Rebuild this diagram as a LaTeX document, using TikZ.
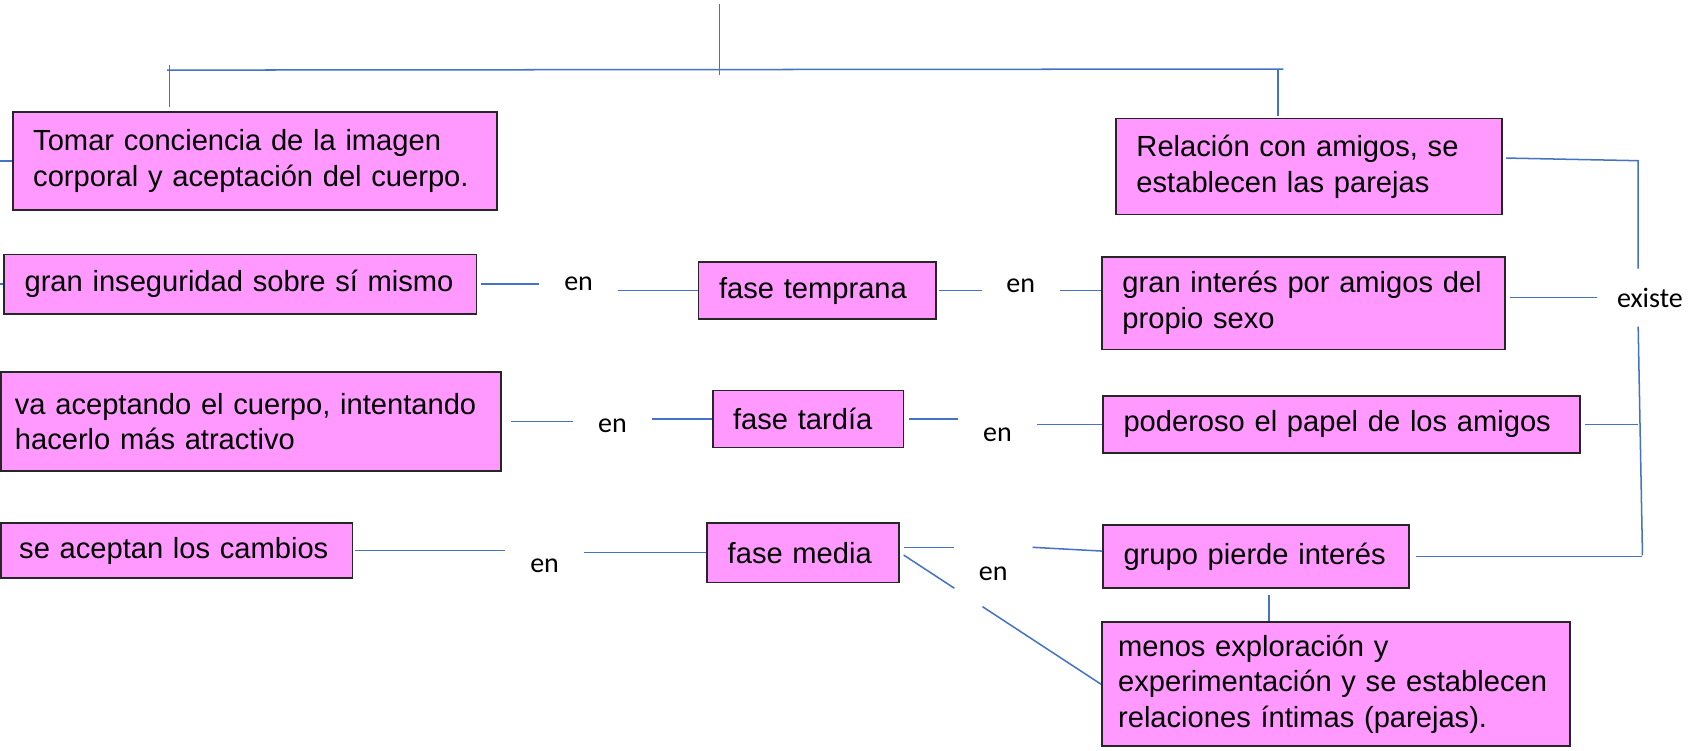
\documentclass[tikz,border=0pt]{standalone}
\usepackage{fontspec}
\setmainfont{Liberation Sans}
\newfontfamily\calibri{Carlito}
\usetikzlibrary{calc}
\hyphenpenalty=10000
\exhyphenpenalty=10000
\definecolor{boxpink}{HTML}{FF99FF}
\definecolor{linkblue}{HTML}{4472C4}
\definecolor{boxline}{HTML}{262626}
\tikzset{
    box/.style={draw=boxline,line width=0.8pt,fill=boxpink,anchor=west,align=left,
        inner xsep=9.5pt,inner ysep=0pt,font=\fontsize{13.5}{16.5}\selectfont},
    link/.style={draw=linkblue,line width=0.7pt},
    word/.style={font=\calibri\fontsize{13}{15}\selectfont,inner sep=0pt,minimum width=36pt}
}
\begin{document}
\begin{tikzpicture}[x=0.5pt,y=-0.5pt]
    \path[fill=white] (0,0) rectangle (1568,696);
    \useasboundingbox (0,0) rectangle (1568,696);

    \node[box,text width=205.5pt,minimum height=45.5pt] (tomar) at (11,149.5) {Tomar conciencia de la imagen\\corporal y aceptación del cuerpo.};
    \node[box,text width=200pt,minimum height=27.5pt] (gi) at (3,263.5) {gran inseguridad sobre sí mismo};
    \node[box,inner xsep=6.5pt,text width=219pt,minimum height=46pt] (va) at (0,391) {va aceptando el cuerpo, intentando\\hacerlo más atractivo};
    \node[box,inner xsep=8.5pt,text width=146pt,minimum height=25.5pt] (se) at (0,510.5) {se aceptan los cambios};
    \node[box,text width=91pt,minimum height=26.5pt] (temprana) at (647,269.5) {fase temprana};
    \node[box,text width=69.5pt,minimum height=26.5pt] (tardia) at (660,388.5) {fase tardía};
    \node[box,text width=70pt,minimum height=27.5pt] (media) at (655,512.5) {fase media};
    \node[box,text width=160pt,minimum height=44.5pt] (relacion) at (1034,154.5) {Relación con amigos, se\\establecen las parejas};
    \node[box,text width=168pt,minimum height=43pt] (ginteres) at (1021,281) {gran interés por amigos del\\propio sexo};
    \node[box,text width=202pt,minimum height=26.5pt] (poderoso) at (1022,393.5) {poderoso el papel de los amigos};
    \node[box,text width=123pt,minimum height=29pt] (grupo) at (1022,516) {grupo pierde interés};
    \node[box,inner xsep=7.5pt,text width=202pt,minimum height=57.5pt] (menos) at (1021,634.5) {menos exploración y\\experimentación y se establecen\\relaciones íntimas (parejas).};

    \node[word] (en1) at (536.5,263) {en};
    \node[word] (en2) at (946.5,265) {en};
    \node[word] (en3) at (568,395) {en};
    \node[word] (en4) at (925,403) {en};
    \node[word] (en5) at (505,525) {en};
    \node[word] (en6) at (921,532) {en};
    \node[word,inner xsep=9pt,minimum height=26.5pt,anchor=west] (existe) at (1481,276) {existe};

    \coordinate (lw) at (0,0);
    \coordinate (top) at (667,4);
    \coordinate (topb) at (667,70);
    \coordinate (hl) at (155,65);
    \coordinate (hr) at (1190,64);
    \coordinate (dl) at (157,60);
    \coordinate (dr) at (1185,64);
    \coordinate (rt) at (1519,149);
    \coordinate (rb) at (1523,515);
    \coordinate (m6) at ([yshift=2.5pt]media.east);

    \draw[link] (top) -- (topb);
    \draw[link] (hl) -- (hr);
    \draw[link] (dl) -- ([yshift=2pt]dl |- tomar.north);
    \draw[link] (dr) -- ([yshift=1pt]dr |- relacion.north);
    \draw[link] (lw |- tomar.west) -- (tomar.west);
    \draw[link] (lw |- gi.west) -- (gi.west);

    \draw[link,shorten <=1.5pt] (gi.east) -- (en1.west |- gi.east);
    \draw[link] (en1.east |- temprana.west) -- (temprana.west);
    \draw[link,shorten <=1pt] (temprana.east) -- (en2.west |- temprana.east);
    \draw[link] (en2.east |- temprana.east) -- (ginteres.west |- temprana.east);

    \draw[link,shorten <=4pt] (va.east) -- (en3.west |- va.east);
    \draw[link] (en3.east |- tardia.west) -- (tardia.west);
    \draw[link,shorten <=2pt] (tardia.east) -- (en4.west |- tardia.east);
    \draw[link] (en4.east |- poderoso.west) -- (poderoso.west);

    \draw[link,shorten <=1pt] (se.east) -- (en5.west |- se.east);
    \draw[link] (en5.east |- media.west) -- (media.west);
    \draw[link,shorten <=2pt] (m6) -- (en6.west |- m6);
    \draw[link] (en6.east |- m6) -- ([yshift=2.5pt]grupo.west);
    \draw[link,shorten <=2pt] (media.east) -- ($(media.east)!0.27!(menos.west)$);
    \draw[link] ($(media.east)!0.41!(menos.west)$) -- (menos.west);
    \draw[link] ([xshift=6pt,yshift=-3pt]grupo.south) -- ([xshift=6pt]grupo.south |- menos.north);

    \draw[link,shorten <=1.5pt] ([yshift=4pt]relacion.east) -- (rt) -- (rt |- existe.north);
    \draw[link] (rt |- existe.south) -- (rb);
    \draw[link,shorten <=2pt] (ginteres.east |- existe.west) -- (existe.west);
    \draw[link,shorten <=2pt] (poderoso.east) -- (poderoso.east -| rt);
    \draw[link,shorten <=2.5pt] (grupo.east) -- (grupo.east -| rb);
\end{tikzpicture}
\end{document}
